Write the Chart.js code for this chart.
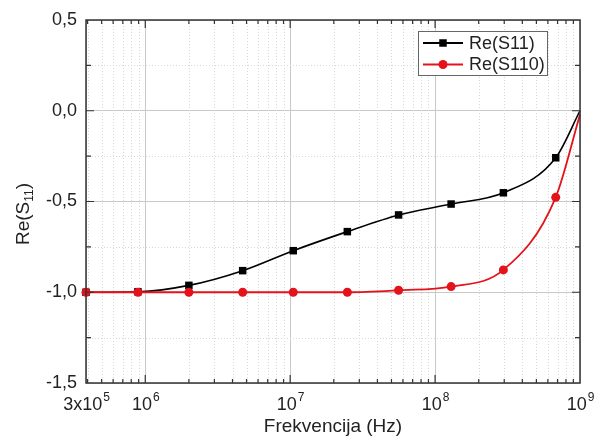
<!DOCTYPE html>
<html>
<head>
<meta charset="utf-8">
<script src="https://cdn.jsdelivr.net/npm/chart.js@4/dist/chart.umd.min.js"></script>
<style>
  html, body { margin: 0; padding: 0; background: #fff; }
  #wrap { width: 594px; height: 436px; }
</style>
</head>
<body>
<div id="wrap"><canvas id="chart" width="594" height="436"></canvas></div>
<script>
const freqs = [3.9e5, 8.9e5, 2.0e6, 4.7e6, 1.05e7, 2.48e7, 5.6e7, 1.29e8, 2.96e8, 6.8e8, 1e9];
const reS11 = [-1.0, -0.997, -0.962, -0.881, -0.771, -0.666, -0.574, -0.514, -0.452, -0.259, 0.0];
const reS110 = [-1.0, -1.0, -1.0, -1.0, -1.0, -1.0, -0.989, -0.969, -0.877, -0.477, -0.02];

const xTickValues = [3.9e5, 1e6, 1e7, 1e8, 1e9];
const xTickBases = ['3x10', '10', '10', '10', '10'];
const xTickExps = ['5', '6', '7', '8', '9'];
const yTickValues = [-1.5, -1.0, -0.5, 0.0, 0.5];
const yMinorValues = [-1.25, -0.75, -0.25, 0.25];

const FONT = 'Liberation Sans, Arial, sans-serif';

const toPoints = (values) => values.map((v, i) => ({ x: freqs[i], y: v }));
// last point has no marker in the original
const markerSizes = (r) => freqs.map((f, i) => (i === freqs.length - 1 ? 0 : r));

const minorX = () => {
    const out = [];
    for (let e = 5; e < 9; e++) {
        for (let k = 2; k <= 9; k++) {
            const v = k * Math.pow(10, e);
            if (v > xTickValues[0] && v < 1e9) out.push(v);
        }
    }
    return out;
};

const framePlugin = {
    id: 'frame',
    beforeDatasetsDraw(chart) {
        const { ctx, chartArea: a, scales } = chart;
        ctx.save();
        ctx.strokeStyle = '#d8d8d8';
        ctx.lineWidth = 1;
        ctx.setLineDash([1, 2]);
        minorX().forEach(v => {
            const px = Math.round(scales.x.getPixelForValue(v)) + 0.5;
            ctx.beginPath();
            ctx.moveTo(px, a.top);
            ctx.lineTo(px, a.bottom);
            ctx.stroke();
        });
        yMinorValues.forEach(v => {
            const py = Math.round(scales.y.getPixelForValue(v)) + 0.5;
            ctx.beginPath();
            ctx.moveTo(a.left, py);
            ctx.lineTo(a.right, py);
            ctx.stroke();
        });
        ctx.restore();
    },
    afterDraw(chart) {
        const { ctx, chartArea: a, scales } = chart;
        ctx.save();
        ctx.strokeStyle = '#333';
        ctx.lineWidth = 1.5;
        ctx.strokeRect(a.left, a.top, a.right - a.left, a.bottom - a.top);

        ctx.lineWidth = 1.2;
        const xTick = (v, len) => {
            const px = scales.x.getPixelForValue(v);
            ctx.beginPath();
            ctx.moveTo(px, a.bottom);
            ctx.lineTo(px, a.bottom - len);
            ctx.moveTo(px, a.top);
            ctx.lineTo(px, a.top + len);
            ctx.stroke();
        };
        const yTick = (v, len) => {
            const py = scales.y.getPixelForValue(v);
            ctx.beginPath();
            ctx.moveTo(a.left, py);
            ctx.lineTo(a.left + len, py);
            ctx.moveTo(a.right, py);
            ctx.lineTo(a.right - len, py);
            ctx.stroke();
        };
        xTickValues.slice(1, -1).forEach(v => xTick(v, 8));
        minorX().forEach(v => xTick(v, 4));
        yTickValues.slice(1, -1).forEach(v => yTick(v, 8));
        yMinorValues.forEach(v => yTick(v, 5));

        // x tick labels with superscript exponents
        ctx.fillStyle = '#222';
        ctx.textBaseline = 'alphabetic';
        xTickValues.forEach((v, i) => {
            const px = scales.x.getPixelForValue(v);
            ctx.font = `18px ${FONT}`;
            const wb = ctx.measureText(xTickBases[i]).width;
            ctx.font = `12px ${FONT}`;
            const we = ctx.measureText(xTickExps[i]).width;
            const x0 = px - (wb + we) / 2;
            ctx.font = `18px ${FONT}`;
            ctx.fillText(xTickBases[i], x0, a.bottom + 27);
            ctx.font = `12px ${FONT}`;
            ctx.fillText(xTickExps[i], x0 + wb + 1, a.bottom + 18);
        });

        // y axis title with subscript
        ctx.translate(22, 214);
        ctx.rotate(-Math.PI / 2);
        ctx.font = `19px ${FONT}`;
        const w1 = ctx.measureText('Re(S').width;
        const w3 = ctx.measureText(')').width;
        ctx.font = `12px ${FONT}`;
        const w2 = ctx.measureText('11').width;
        const t0 = -(w1 + w2 + w3) / 2;
        ctx.font = `19px ${FONT}`;
        ctx.fillText('Re(S', t0, 7);
        ctx.font = `12px ${FONT}`;
        ctx.fillText('11', t0 + w1, 11);
        ctx.font = `19px ${FONT}`;
        ctx.fillText(')', t0 + w1 + w2, 7);
        ctx.restore();

        // legend box
        ctx.save();
        const lx = a.right - 162, ly = a.top + 11, lw = 129, lh = 44;
        ctx.fillStyle = '#fff';
        ctx.fillRect(lx, ly, lw, lh);
        ctx.strokeStyle = '#666';
        ctx.lineWidth = 1;
        ctx.strokeRect(lx + 0.5, ly + 0.5, lw, lh);
        const rows = [
            { label: 'Re(S11)', color: '#000', style: 'rect', y: ly + 12 },
            { label: 'Re(S110)', color: '#e3121b', style: 'circle', y: ly + 33.5 }
        ];
        rows.forEach(r => {
            ctx.strokeStyle = r.color;
            ctx.fillStyle = r.color;
            ctx.lineWidth = 2;
            ctx.beginPath();
            ctx.moveTo(lx + 5, r.y);
            ctx.lineTo(lx + 45, r.y);
            ctx.stroke();
            if (r.style === 'rect') {
                ctx.fillRect(lx + 25 - 3.75, r.y - 3.75, 7.5, 7.5);
            } else {
                ctx.beginPath();
                ctx.arc(lx + 25, r.y, 4.5, 0, Math.PI * 2);
                ctx.fill();
            }
            ctx.fillStyle = '#222';
            ctx.font = `18px ${FONT}`;
            ctx.textBaseline = 'middle';
            ctx.fillText(r.label, lx + 51, r.y + 1);
        });
        ctx.restore();
    }
};

new Chart(document.getElementById('chart'), {
    type: 'line',
    data: {
        datasets: [{
            label: 'Re(S11)',
            data: toPoints(reS11),
            borderColor: '#000',
            backgroundColor: '#000',
            borderWidth: 1.6,
            pointStyle: 'rect',
            pointRadius: markerSizes(5.3),
            pointBorderWidth: 0,
            cubicInterpolationMode: 'monotone',
            clip: false,
            order: 1
        }, {
            label: 'Re(S110)',
            data: toPoints(reS110),
            borderColor: '#e3121b',
            backgroundColor: '#e3121b',
            borderWidth: 1.8,
            pointStyle: 'circle',
            pointRadius: markerSizes(4.5),
            pointBorderWidth: 0,
            cubicInterpolationMode: 'monotone',
            clip: false,
            order: 0
        }]
    },
    options: {
        responsive: false,
        animation: false,
        events: [],
        layout: { padding: { left: 0, right: 14, top: 20, bottom: 0 } },
        plugins: {
            legend: { display: false },
            tooltip: { enabled: false }
        },
        scales: {
            x: {
                type: 'logarithmic',
                min: xTickValues[0],
                max: 1e9,
                afterBuildTicks: (scale) => {
                    scale.ticks = xTickValues.map(v => ({ value: v }));
                },
                afterFit: (scale) => {
                    scale.height = 53;
                    scale.paddingLeft = 0;
                    scale.paddingRight = 0;
                },
                ticks: { display: false },
                grid: { color: '#c8c8c8', lineWidth: 1, drawTicks: false },
                border: { display: false },
                title: {
                    display: true,
                    text: 'Frekvencija (Hz)',
                    color: '#222',
                    font: { family: FONT, size: 19, lineHeight: 1 },
                    padding: { top: 0, bottom: 0 }
                }
            },
            y: {
                min: -1.5,
                max: 0.5,
                afterBuildTicks: (scale) => {
                    scale.ticks = yTickValues.map(v => ({ value: v }));
                },
                afterFit: (scale) => {
                    scale.width = 86;
                    scale.paddingTop = 0;
                    scale.paddingBottom = 0;
                },
                ticks: {
                    padding: 9,
                    color: '#222',
                    font: { family: FONT, size: 18 },
                    callback: (value) => value.toFixed(1).replace('.', ',')
                },
                grid: { color: '#c8c8c8', lineWidth: 1, drawTicks: false },
                border: { display: false }
            }
        }
    },
    plugins: [framePlugin]
});
</script>
</body>
</html>
